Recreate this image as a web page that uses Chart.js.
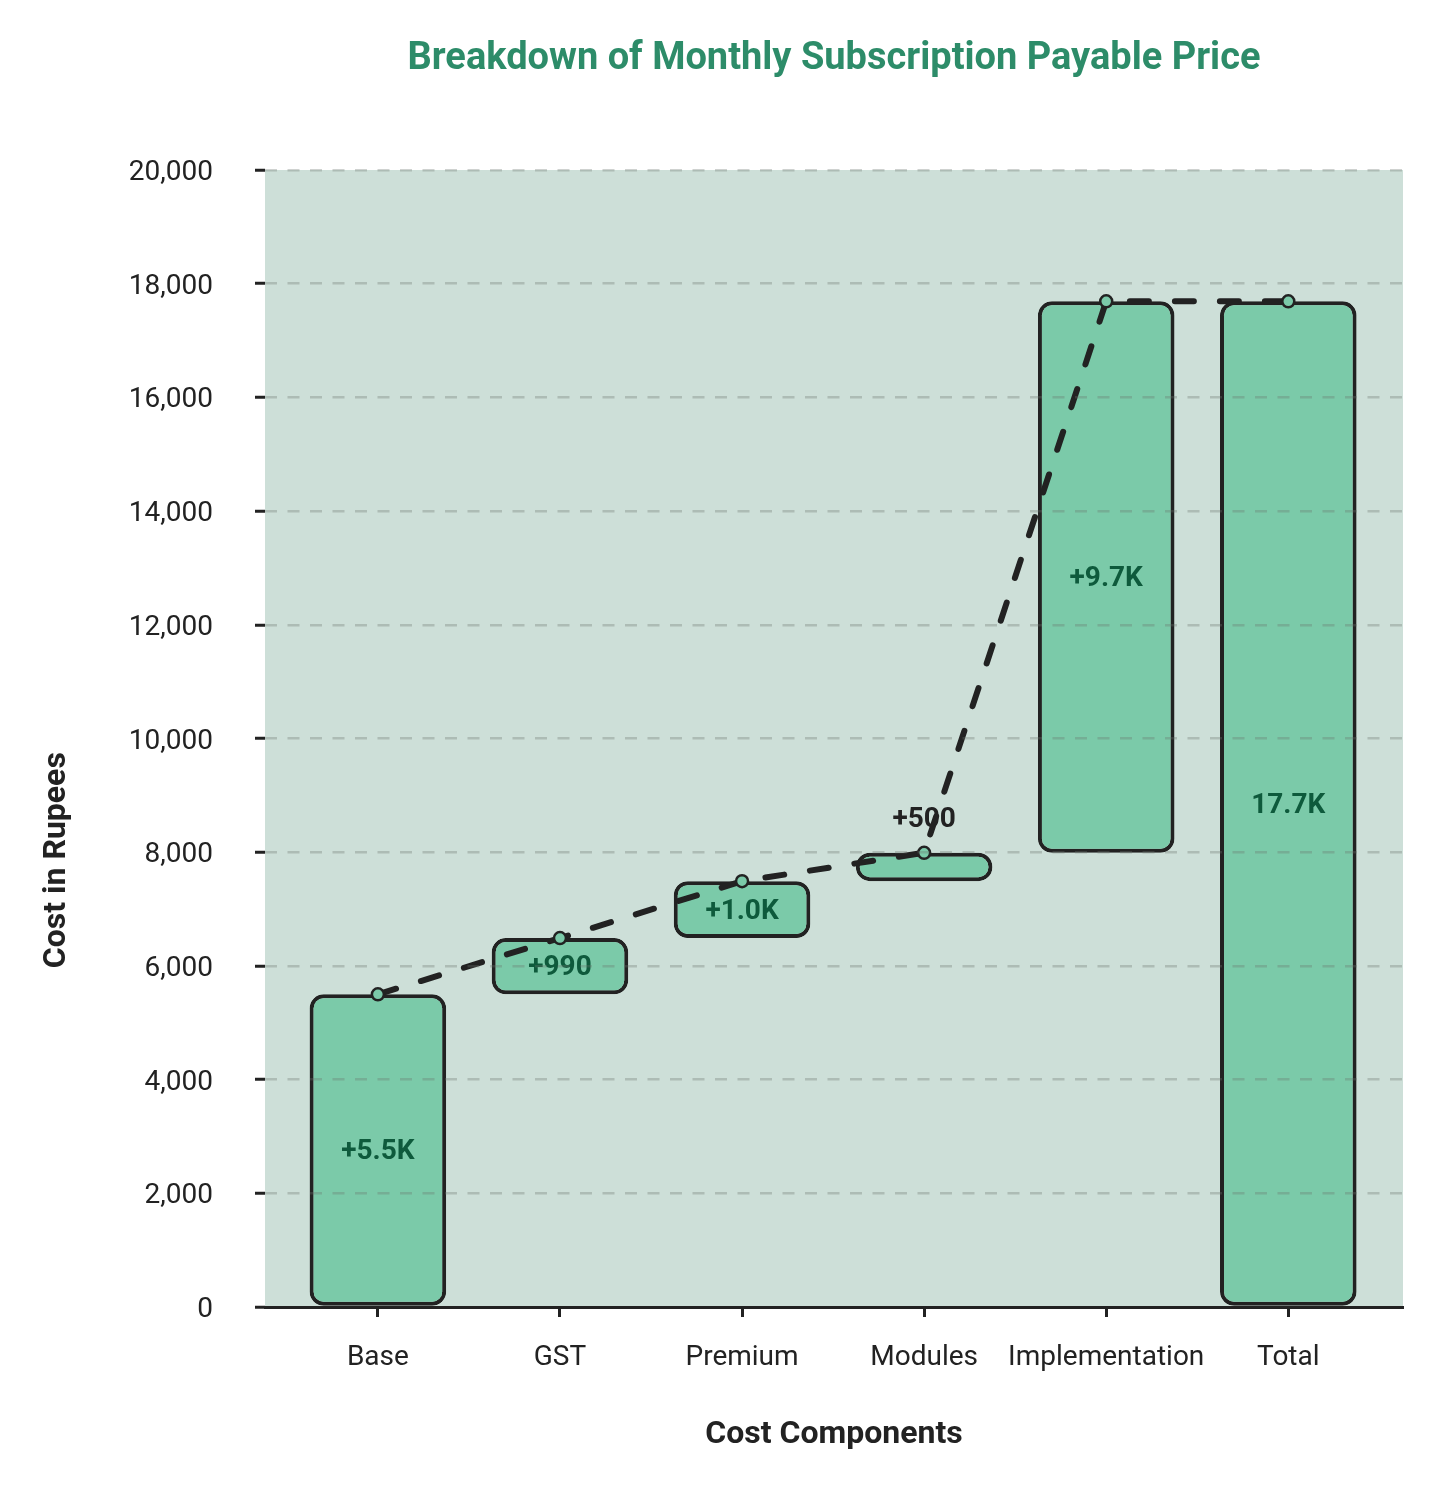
<!DOCTYPE html>
<html>
<head>
<meta charset="utf-8">
<title>Breakdown of Monthly Subscription Payable Price</title>
<script src="https://cdn.jsdelivr.net/npm/chart.js@4.4.1/dist/chart.umd.min.js"></script>
<style>
  body { margin: 0; background: #ffffff; }
  #wrap { width: 1445px; height: 1490px; }
</style>
</head>
<body>
<div id="wrap"><canvas id="waterfall"></canvas></div>
<script>
// values
const categories = ['Base', 'GST', 'Premium', 'Modules', 'Implementation', 'Total'];
const increments = [5500, 990, 1000, 500, 9700];
const totalValue = 17690;
const yTickValues = [0, 2000, 4000, 6000, 8000, 10000, 12000, 14000, 16000, 18000, 20000];

const FONT = 'Roboto, "Noto Sans", sans-serif';
const DARK = '#222222';
const BAR_FILL = '#7bcaa9';
const PLOT_BG = '#cddfd8';

// floating bar ranges for the waterfall
let running = 0;
const barRanges = [];
const barLabels = [];
increments.forEach(function (v, i) {
  barRanges.push({ x: i, y: [running, running + v] });
  barLabels.push('+' + fmt(v));
  running += v;
});
barRanges.push({ x: categories.length - 1, y: [0, totalValue] });
barLabels.push(fmt(totalValue));

// connector line goes through the top of each bar
const connector = barRanges.map(function (r) { return { x: r.x, y: r.y[1] }; });

function fmt(v) {
  return v >= 1000 ? (v / 1000).toFixed(1) + 'K' : String(v);
}

const plotBackground = {
  id: 'plotBackground',
  beforeDraw: function (chart) {
    const a = chart.chartArea;
    const ctx = chart.ctx;
    ctx.save();
    ctx.fillStyle = PLOT_BG;
    ctx.fillRect(a.left, a.top, a.right - a.left, a.bottom - a.top);
    ctx.restore();
  }
};

const barValueLabels = {
  id: 'barValueLabels',
  afterDatasetDraw: function (chart, args) {
    if (args.index !== 0) return;
    const ctx = chart.ctx;
    ctx.save();
    ctx.font = 'bold 28px ' + FONT;
    ctx.textAlign = 'center';
    ctx.textBaseline = 'middle';
    args.meta.data.forEach(function (bar, i) {
      const h = Math.abs(bar.base - bar.y);
      const top = Math.min(bar.base, bar.y);
      if (h < 40) {
        ctx.fillStyle = DARK;
        ctx.fillText(barLabels[i], bar.x, top - 33);
      } else {
        ctx.fillStyle = '#0e5a3c';
        ctx.fillText(barLabels[i], bar.x, top + h / 2 + 2);
      }
    });
    ctx.restore();
  }
};

const yAxisTitle = {
  id: 'yAxisTitle',
  afterDraw: function (chart) {
    const a = chart.chartArea;
    const ctx = chart.ctx;
    ctx.save();
    ctx.translate(57, a.top + (a.bottom - a.top) * 0.607);
    ctx.rotate(-Math.PI / 2);
    ctx.font = 'bold 32px ' + FONT;
    ctx.fillStyle = DARK;
    ctx.textAlign = 'center';
    ctx.textBaseline = 'middle';
    ctx.fillText('Cost in Rupees', 0, 0);
    ctx.restore();
  }
};

new Chart(document.getElementById('waterfall'), {
  data: {
    datasets: [{
      type: 'bar',
      data: barRanges,
      backgroundColor: BAR_FILL,
      borderColor: DARK,
      borderWidth: 4,
      borderRadius: 14,
      borderSkipped: false,
      barPercentage: 0.75,
      categoryPercentage: 1,
      order: 2
    }, {
      type: 'line',
      data: connector,
      borderColor: DARK,
      borderWidth: 6,
      borderDash: [19, 26],
      borderCapStyle: 'round',
      tension: 0,
      fill: false,
      pointRadius: 6,
      pointBorderWidth: 2.5,
      pointBackgroundColor: BAR_FILL,
      pointBorderColor: DARK,
      order: 1
    }]
  },
  options: {
    responsive: true,
    maintainAspectRatio: false,
    devicePixelRatio: 1,
    animation: false,
    layout: { padding: { left: 0, right: 42, top: 0, bottom: 0 } },
    plugins: {
      legend: { display: false },
      tooltip: { enabled: false },
      title: {
        display: true,
        fullSize: false,
        text: 'Breakdown of Monthly Subscription Payable Price',
        color: '#2d8c69',
        font: { family: FONT, size: 38, weight: 'bold' },
        padding: { top: 37, bottom: 87.4 }
      }
    },
    scales: {
      x: {
        type: 'linear',
        offset: false,
        min: -0.62,
        max: 5.63,
        afterBuildTicks: function (scale) {
          scale.ticks = categories.map(function (c, i) { return { value: i }; });
        },
        afterFit: function (scale) { scale.height = 183; },
        grid: {
          display: true,
          offset: false,
          drawOnChartArea: false,
          drawTicks: true,
          tickLength: 10,
          tickColor: DARK,
          tickWidth: 3
        },
        border: { display: true, color: DARK, width: 3 },
        ticks: {
          autoSkip: false,
          maxRotation: 0,
          minRotation: 0,
          padding: 24,
          color: DARK,
          font: { family: FONT, size: 28 },
          callback: function (v) { return categories[v]; }
        },
        title: {
          display: true,
          text: 'Cost Components',
          color: DARK,
          font: { family: FONT, size: 32, weight: 'bold' },
          padding: { top: 0, bottom: 36 }
        }
      },
      y: {
        min: 0,
        max: 20000,
        afterBuildTicks: function (scale) {
          scale.ticks = yTickValues.map(function (v) { return { value: v }; });
        },
        afterFit: function (scale) { scale.width = 265; },
        grid: {
          z: 1,
          color: function (c) {
            return c.tick && c.tick.value === 0 ? 'rgba(0,0,0,0)' : 'rgba(105,115,110,0.32)';
          },
          lineWidth: 2.5,
          tickLength: 10,
          tickColor: DARK,
          tickWidth: 3
        },
        border: { display: false, dash: [12, 10.5] },
        ticks: {
          padding: 42,
          labelOffset: 3,
          color: DARK,
          font: { family: FONT, size: 28 },
          callback: function (v) { return v.toLocaleString('en-US'); }
        }
      }
    }
  },
  plugins: [plotBackground, barValueLabels, yAxisTitle]
});
</script>
</body>
</html>
